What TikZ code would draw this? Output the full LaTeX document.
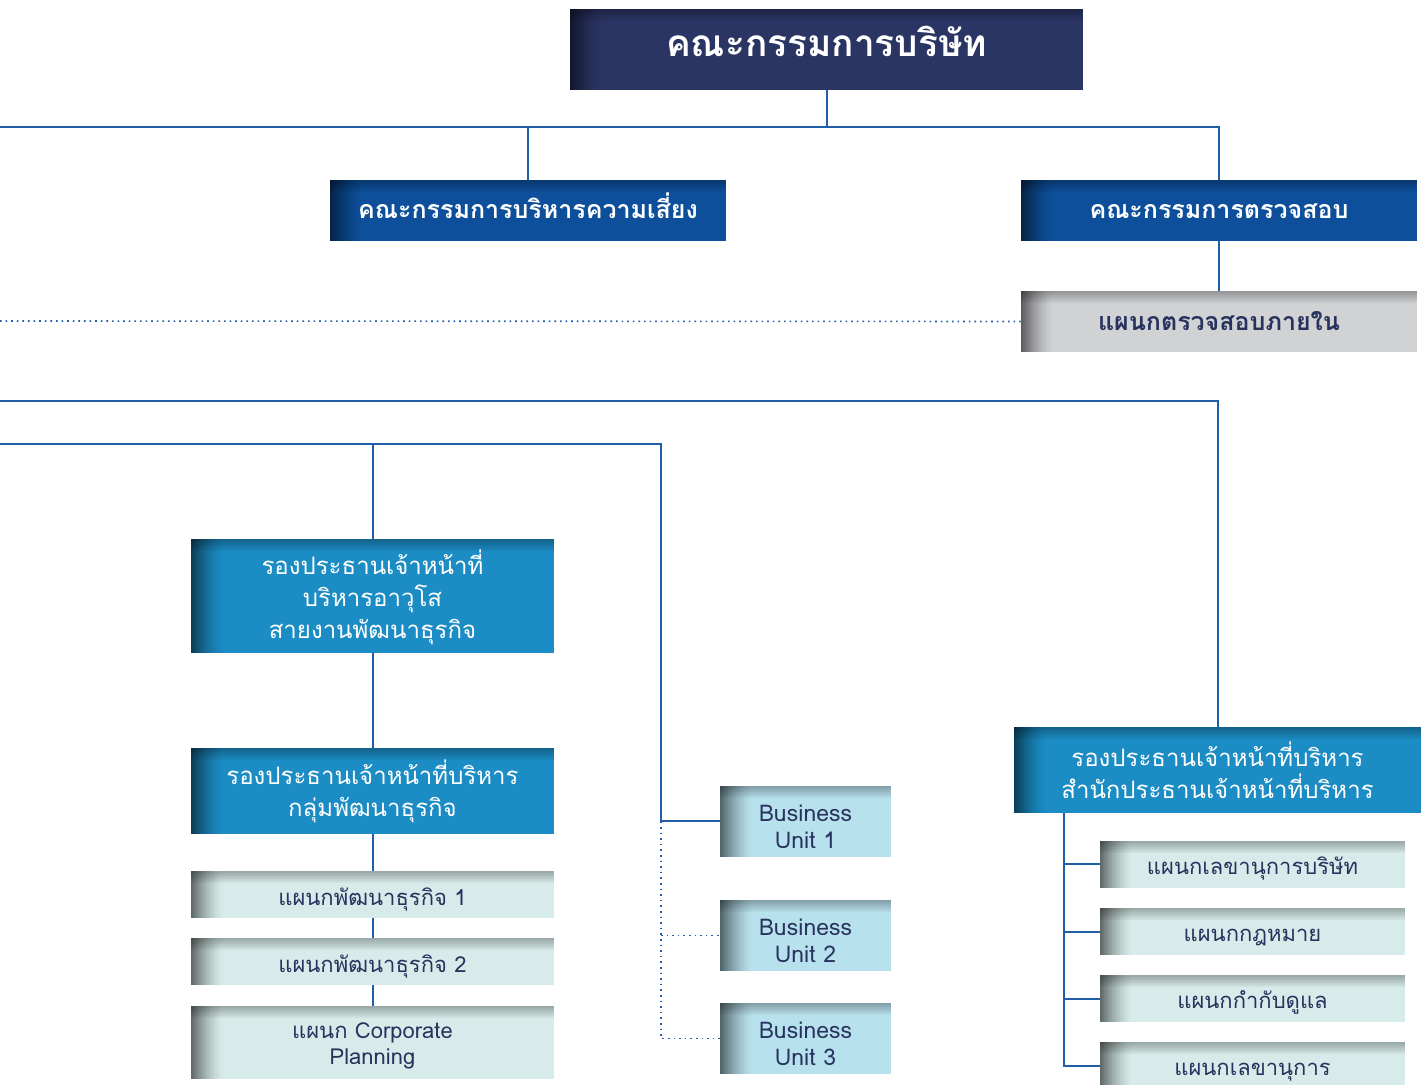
\documentclass[tikz,border=0pt]{standalone}
\usepackage{fontspec}
\newfontfamily\thaifont[Script=Thai]{Loma}
\usetikzlibrary{positioning}

\definecolor{boardnavy}{HTML}{2A3564}
\definecolor{committeeblue}{HTML}{0D4F9B}
\definecolor{vpblue}{HTML}{1B8CC4}
\definecolor{unitgray}{HTML}{D1D2D4}
\definecolor{deptteal}{HTML}{D7ECEA}
\definecolor{bulight}{HTML}{B8E1EE}
\definecolor{textnavy}{HTML}{28325E}
\definecolor{linkblue}{HTML}{1F5FAA}

\tikzset{
  shadedfill/.style={fill=#1, path picture={
      \foreach \j [evaluate=\j as \op using 0.28*(1-\j/6), evaluate=\j as \jb using \j+1] in {0,...,5}
        \fill[black, fill opacity=\op]
          ([yshift=-\j pt]path picture bounding box.north west) rectangle ([yshift=-\jb pt]path picture bounding box.north east);
      \foreach \i [evaluate=\i as \op using 0.55*(1-\i/16)^1.5, evaluate=\i as \ib using \i+1] in {0,...,15}
        \fill[black, fill opacity=\op]
          ([xshift=\i pt]path picture bounding box.north west) rectangle ([xshift=\ib pt]path picture bounding box.south west);
    }},
  onerow/.style={text height=#1, text depth=0pt},
  orgbox/.style={inner sep=0pt, align=center, font=\thaifont},
  boardbox/.style={orgbox, shadedfill=boardnavy, text=white, minimum width=256.5pt, minimum height=40.5pt,
    onerow=0.69em, font=\thaifont\bfseries\fontsize{18.5}{22}\selectfont},
  combox/.style={orgbox, shadedfill=committeeblue, text=white, minimum width=198pt, minimum height=30.5pt,
    onerow=0.82em, font=\thaifont\bfseries\fontsize{12.5}{15}\selectfont},
  graybox/.style={orgbox, shadedfill=unitgray, text=textnavy, minimum width=198pt, minimum height=30.5pt,
    onerow=0.92em, font=\thaifont\bfseries\fontsize{12.5}{15}\selectfont},
  vpbox/.style={orgbox, shadedfill=vpblue, text=white, minimum width=181.5pt,
    font=\thaifont\fontsize{12}{16}\selectfont},
  deptbox/.style={orgbox, shadedfill=deptteal, text=textnavy, minimum width=181.5pt, minimum height=23.5pt,
    font=\thaifont\fontsize{11}{13}\selectfont},
  bubox/.style={orgbox, shadedfill=bulight, text=textnavy, minimum width=85.5pt, minimum height=35.5pt,
    font=\thaifont\fontsize{11.5}{13.5}\selectfont},
  link/.style={draw=linkblue, line width=1pt},
  dotlink/.style={draw=linkblue, line width=0.8pt, dotted}
}

\begin{document}
\begin{tikzpicture}[x=0.5pt, y=-0.5pt]
  \clip (0,0) rectangle (1421,1085);

  % board and committees
  \node[boardbox] (board) at (826.5,49.5) {คณะกรรมการบริษัท};
  \node[combox] (risk) at (528,210.5) {คณะกรรมการบริหารความเสี่ยง};
  \node[combox] (audit) at (1219,210.5) {คณะกรรมการตรวจสอบ};
  \node[graybox] (internal) at (1219,321.5) {แผนกตรวจสอบภายใน};

  % executives
  \node[vpbox, minimum height=57pt] (svp) at (372.5,596) {\rule{0pt}{1.15em}รองประธานเจ้าหน้าที่\\บริหารอาวุโส\\สายงานพัฒนาธุรกิจ};
  \node[vpbox, minimum height=43pt] (vp) at (372.5,791) {รองประธานเจ้าหน้าที่บริหาร\\กลุ่มพัฒนาธุรกิจ};
  \node[vpbox, minimum width=203.5pt, minimum height=43pt] (office) at (1217.5,770) {รองประธานเจ้าหน้าที่บริหาร\\สำนักประธานเจ้าหน้าที่บริหาร};

  % departments
  \node[deptbox, onerow=1.1em] (dev1) at (372.5,894.5) {แผนกพัฒนาธุรกิจ 1};
  \node[deptbox, onerow=1.1em] (dev2) at (372.5,961.5) {แผนกพัฒนาธุรกิจ 2};
  \node[deptbox, minimum height=36.5pt] (plan) at (372.5,1042.5) {\rule{0pt}{1.05em}แผนก Corporate\\Planning};
  \node[deptbox, onerow=1.02em, minimum width=152.5pt] (corpsec) at (1252.5,864.5) {แผนกเลขานุการบริษัท};
  \node[deptbox, onerow=1.02em, minimum width=152.5pt] (legal) at (1252.5,931.5) {แผนกกฎหมาย};
  \node[deptbox, onerow=1.02em, minimum width=152.5pt] (comply) at (1252.5,998.5) {แผนกกำกับดูแล};
  \node[deptbox, onerow=1.02em, minimum width=152.5pt] (secretary) at (1252.5,1065.5) {แผนกเลขานุการ};

  % business units
  \node[bubox] (bu1) at (805.5,821.5) {\rule{0pt}{1.2em}Business\\Unit 1};
  \node[bubox] (bu2) at (805.5,935.5) {\rule{0pt}{1.2em}Business\\Unit 2};
  \node[bubox] (bu3) at (805.5,1038.5) {\rule{0pt}{1.2em}Business\\Unit 3};

  % free ends on the left
  \coordinate (busA) at (0,127);
  \coordinate (busB) at (0,321);
  \coordinate (busC) at (0,401);
  \coordinate (busD) at (0,444);
  \coordinate (buX) at (661,0);
  \coordinate (offX) at (1064,0);

  % connectors
  \draw[link] (board.south) -- (board.south |- busA);
  \draw[link] (busA) -| (audit.north);
  \draw[link] (risk.north) -- (risk.north |- busA);
  \draw[link] (audit.south) -- (internal.north);
  \draw[dotlink] (busB) -- (internal.west);
  \draw[link] (busC) -| (office.north);
  \draw[link] (busD) -| (buX |- bu1.west) -- (bu1.west);
  \draw[link] (svp.north) -- (svp.north |- busD);
  \draw[dotlink] (buX |- bu1.west) |- (bu3.west);
  \draw[dotlink] (buX |- bu2.west) -- (bu2.west);
  \draw[link] (svp.south) -- (vp.north);
  \draw[link] (vp.south) -- (dev1.north);
  \draw[link] (dev1.south) -- (dev2.north);
  \draw[link] (dev2.south) -- (plan.north);
  \draw[link] (offX |- office.south) |- (secretary.west);
  \draw[link] (offX |- corpsec.west) -- (corpsec.west);
  \draw[link] (offX |- legal.west) -- (legal.west);
  \draw[link] (offX |- comply.west) -- (comply.west);
\end{tikzpicture}
\end{document}
